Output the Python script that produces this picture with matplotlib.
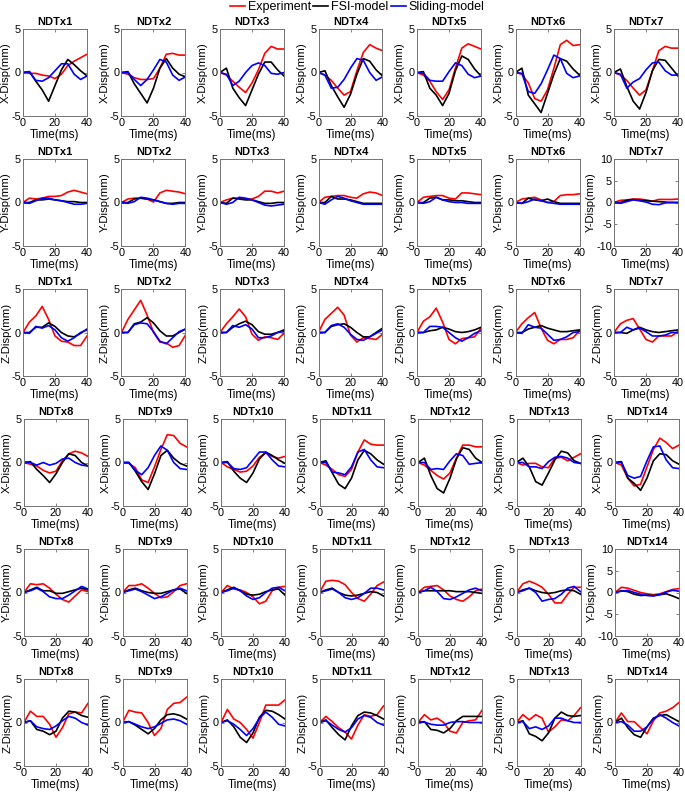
import matplotlib.pyplot as plt
from matplotlib.lines import Line2D

plt.rcParams['font.family'] = ['Liberation Sans', 'DejaVu Sans']
plt.rcParams['axes.unicode_minus'] = False

TIME = [0, 4, 8, 12, 16, 20, 24, 28, 32, 36, 40]
NAMES_A = ['NDTx1', 'NDTx2', 'NDTx3', 'NDTx4', 'NDTx5', 'NDTx6', 'NDTx7']
NAMES_B = ['NDTx8', 'NDTx9', 'NDTx10', 'NDTx11', 'NDTx12', 'NDTx13', 'NDTx14']

# ---- X displacement, NDTx1-7
x_exp_a = [[0, -0.1, -0.1, -0.3, -0.4, -0.7, -0.2, 0.8, 1.3, 1.7, 2.1],
           [0, -0.2, -0.6, -0.8, -0.8, -0.7, 0.5, 2.1, 2.2, 2.0, 2.0],
           [0, -0.3, -1.0, -1.7, -2.3, -1.2, 0.3, 2.2, 3.0, 2.7, 2.7],
           [0, -0.3, -0.9, -1.8, -2.6, -2.2, 0.2, 2.3, 3.2, 2.8, 2.5],
           [0, -0.3, -1.0, -2.2, -3.1, -2.0, 0.5, 2.8, 3.3, 3.0, 2.7],
           [0, -0.2, -1.2, -3.0, -3.3, -2.0, 0.5, 3.2, 3.7, 3.1, 3.2],
           [0, -0.3, -0.9, -1.8, -2.6, -2.0, 0.2, 2.5, 3.0, 2.8, 2.8]]
x_fsi_a = [[0, 0.1, -1.0, -2.0, -3.3, -1.5, 0.3, 1.5, 0.9, 0.2, -0.4],
           [0, 0.1, -1.3, -2.4, -3.5, -1.8, 0.5, 1.6, 0.5, -0.2, -0.5],
           [0, 0.5, -1.8, -2.9, -3.8, -2.0, -0.2, 1.2, 1.2, 0.3, -0.4],
           [0, 0.2, -1.5, -2.8, -4.0, -2.5, -0.2, 1.6, 1.3, 0.3, -0.4],
           [0, 0.1, -1.8, -2.6, -3.8, -2.4, 0.2, 1.9, 1.5, 0.4, -0.4],
           [0, 0.5, -2.6, -3.6, -4.6, -2.4, -0.2, 1.6, 1.3, 0.4, -0.3],
           [0, 0.4, -1.6, -3.3, -4.2, -2.3, 0.2, 1.5, 1.4, 0.5, -0.4]]
x_sld_a = [[0, 0.1, -0.9, -1.0, -0.6, 0.2, 1.0, 1.0, -0.2, -0.8, -0.4],
           [0, 0.0, -0.8, -1.5, -0.8, 0.3, 1.5, 1.2, -0.3, -0.9, -0.5],
           [0, -0.2, -1.5, -1.0, 0.0, 0.8, 1.1, 0.8, -0.1, -0.2, 0.0],
           [0, -0.3, -1.8, -1.7, -0.8, 0.5, 1.6, 1.4, 0.0, -0.9, -0.5],
           [0, -0.1, -0.9, -1.0, -1.0, 0.1, 1.1, 0.8, -0.2, -0.6, -0.4],
           [0, -0.1, -2.2, -2.4, -1.3, 0.3, 2.0, 1.6, -0.1, -0.6, -0.4],
           [0, -0.2, -1.8, -1.1, -0.7, 0.3, 1.1, 1.2, 0.2, -0.3, -0.3]]

# ---- Y displacement, NDTx1-7
y_exp_a = [[0, 0.5, 0.4, 0.5, 0.7, 0.7, 0.8, 1.2, 1.4, 1.2, 1.0],
           [0, 0.4, 0.5, 0.5, 0.4, 0.05, 1.1, 1.4, 1.3, 1.2, 1.0],
           [0, 0.3, 0.5, 0.5, 0.4, 0.4, 0.7, 1.3, 1.3, 1.1, 1.3],
           [0, 0.6, 0.7, 0.8, 0.8, 0.6, 0.5, 1.0, 1.2, 1.1, 0.8],
           [0, 0.6, 0.7, 0.8, 0.8, 0.5, 0.4, 1.1, 1.1, 1.0, 0.9],
           [0, 0.4, 0.5, 0.6, 0.3, 0.0, 0.1, 0.8, 0.9, 0.9, 1.0],
           [0, 0.5, 0.6, 0.8, 0.8, 0.6, 0.3, 0.7, 0.7, 0.7, 0.8]]
y_fsi_a = [[0, 0.0, 0.3, 0.3, 0.4, 0.3, 0.2, 0.1, 0.1, 0.0, 0.0],
           [0, 0.0, 0.4, 0.5, 0.4, 0.3, 0.1, -0.1, -0.1, 0.0, 0.0],
           [0, -0.1, 0.5, 0.4, 0.3, 0.3, 0.1, -0.1, -0.1, 0.0, 0.0],
           [0, 0.0, 0.7, 0.4, 0.4, 0.3, 0.1, -0.1, -0.1, -0.1, -0.1],
           [0, 0.0, 0.5, 0.6, 0.3, 0.3, 0.2, 0.2, 0.1, 0.0, 0.0],
           [0, -0.1, 0.5, 0.3, 0.2, 0.4, 0.1, -0.1, -0.1, -0.1, -0.1],
           [0, 0.0, 0.5, 0.7, 0.5, 0.4, 0.3, 0.2, 0.1, 0.0, 0.0]]
y_sld_a = [[0, -0.1, 0.2, 0.5, 0.5, 0.3, 0.2, 0.0, -0.2, -0.2, -0.1],
           [0, -0.1, 0.1, 0.6, 0.5, 0.3, 0.1, -0.1, -0.2, -0.1, -0.1],
           [0, -0.2, 0.0, 0.6, 0.5, 0.3, 0.0, -0.3, -0.4, -0.3, -0.2],
           [0, -0.2, 0.3, 0.7, 0.5, 0.2, 0.0, -0.2, -0.2, -0.2, -0.2],
           [0, -0.1, 0.1, 0.6, 0.3, 0.1, 0.0, 0.0, -0.1, -0.1, -0.1],
           [0, -0.1, 0.1, 0.4, 0.2, 0.0, -0.1, -0.2, -0.2, -0.2, -0.2],
           [0, -0.2, 0.2, 0.6, 0.4, 0.1, -0.4, -0.5, -0.1, 0.0, 0.0]]

# ---- Z displacement, NDTx1-7
z_exp_a = [[0, 1.2, 1.9, 3.0, 1.5, -0.4, -1.0, -1.1, -1.5, -1.5, -0.4],
           [0, 1.5, 2.6, 3.7, 2.0, 0.0, -1.1, -1.2, -1.7, -1.5, -0.3],
           [0, 1.0, 1.8, 2.7, 1.8, -0.2, -0.9, -0.5, -0.6, -0.8, -0.1],
           [0, 1.5, 2.2, 2.9, 2.0, -0.3, -1.1, -0.6, -0.7, -0.8, -0.2],
           [0, 1.3, 1.8, 2.8, 1.2, -0.8, -1.3, -0.7, -0.6, -0.5, 0.5],
           [0, 1.0, 1.7, 2.3, 0.5, -0.9, -1.3, -0.8, -0.8, -0.6, 0.2],
           [0, 1.0, 1.4, 1.6, 0.4, -0.8, -1.1, -0.4, -0.4, -0.4, 0.1]]
z_fsi_a = [[0, 0.0, 0.6, 0.6, 1.1, 0.7, 0.0, -0.4, -0.5, -0.1, 0.4],
           [0, 0.0, 1.0, 1.2, 1.7, 1.1, 0.2, -0.4, -0.4, 0.0, 0.4],
           [0, 0.0, 0.6, 1.0, 1.3, 0.9, 0.1, -0.2, -0.2, 0.0, 0.3],
           [0, 0.0, 0.7, 0.9, 1.0, 0.6, 0.0, -0.5, -0.5, 0.0, 0.5],
           [0, 0.0, 0.2, 0.3, 0.6, 0.4, 0.1, 0.0, 0.1, 0.3, 0.6],
           [0, 0.0, 0.4, 0.6, 0.8, 0.5, 0.3, 0.1, 0.1, 0.2, 0.3],
           [0, 0.0, -0.1, 0.3, 0.6, 0.3, 0.1, 0.0, 0.1, 0.2, 0.3]]
z_sld_a = [[0, -0.1, 0.7, 0.5, 0.8, 0.3, -0.6, -1.0, -0.6, 0.0, 0.3],
           [0, 0.0, 0.9, 1.1, 1.0, 0.1, -1.0, -1.3, -0.6, 0.1, 0.4],
           [0, 0.0, 0.8, 0.6, 0.9, 0.4, -0.6, -0.6, -0.4, 0.0, 0.1],
           [0, 0.0, 0.8, 1.0, 0.6, -0.2, -0.8, -0.9, -0.5, -0.1, 0.3],
           [0, 0.0, 0.7, 0.7, 0.6, 0.0, -0.6, -1.0, -0.6, -0.1, 0.2],
           [0, -0.1, 0.9, 0.6, 0.5, -0.2, -0.9, -0.8, -0.5, 0.0, 0.1],
           [0, 0.0, 0.6, 0.3, 0.5, 0.1, -0.4, -0.4, -0.3, 0.0, 0.0]]

# ---- X displacement, NDTx8-14
x_exp_b = [[0, -0.2, -0.4, -0.9, -1.2, -1.0, 0.2, 1.0, 1.3, 1.1, 0.7],
           [0, -0.1, -0.6, -2.0, -2.3, -0.5, 1.5, 3.2, 3.1, 2.2, 1.8],
           [0, -0.5, -0.8, -1.1, -1.0, -0.4, 0.6, 1.1, 0.7, 0.5, 0.7],
           [0, -0.3, -0.8, -1.4, -1.6, -0.8, 1.2, 2.6, 2.1, 2.0, 2.0],
           [0, -0.3, -0.9, -1.5, -1.9, -1.2, 0.5, 2.0, 2.0, 1.8, 1.8],
           [0, -0.3, -0.1, -0.1, -0.5, -0.6, 0.5, 0.6, 0.2, 0.6, 1.0],
           [0, -0.3, -1.8, -2.7, -2.5, -0.5, 1.5, 2.8, 2.3, 1.6, 2.0]]
x_fsi_b = [[0, 0.1, -0.8, -1.5, -2.3, -1.3, 0.0, 1.0, 0.8, 0.0, -0.4],
           [0, 0.0, -1.0, -2.2, -3.1, -1.3, 0.8, 1.4, 0.5, -0.1, -0.4],
           [0, 0.1, -1.0, -1.8, -2.3, -1.2, 0.4, 1.2, 0.8, 0.3, -0.1],
           [0, 0.2, -1.2, -2.5, -3.0, -1.8, 0.3, 1.4, 1.0, 0.3, -0.2],
           [0, 0.5, -1.5, -3.0, -3.5, -1.8, 0.4, 1.7, 1.5, 0.5, 0.0],
           [0, 0.5, -0.5, -2.2, -2.6, -1.2, 0.3, 1.3, 1.1, 0.2, -0.1],
           [0, 0.1, -1.8, -2.4, -3.2, -1.8, 0.2, 1.0, 0.9, 0.2, -0.2]]
x_sld_b = [[0, 0.0, -0.3, 0.0, -0.3, -0.1, 0.4, 0.5, 0.0, -0.3, -0.4],
           [0, 0.0, -0.9, -1.4, -0.6, 0.8, 1.9, 1.4, 0.0, -0.7, -0.8],
           [0, 0.0, -0.7, -0.8, -0.6, 0.3, 1.2, 1.2, 0.3, -0.4, -0.5],
           [0, 0.0, -1.1, -1.2, -1.4, -0.5, 1.2, 1.5, 0.3, -0.5, -0.6],
           [0, 0.0, -0.8, -0.7, -0.8, 0.2, 1.0, 0.8, -0.2, -0.1, 0.0],
           [0, 0.0, -0.5, -0.5, -0.7, 0.1, 0.6, 0.7, 0.5, 0.0, -0.1],
           [0, 0.0, -1.5, -1.8, -1.6, 0.2, 1.8, 1.9, 0.3, -0.6, -0.7]]

# ---- Y displacement, NDTx8-14
y_exp_b = [[0, 1.0, 0.9, 1.0, 0.5, -0.2, -0.8, -1.1, -0.4, 0.3, 0.1],
           [0, 0.8, 0.8, 1.0, 0.5, -0.1, -0.6, -0.5, 0.1, 0.8, 1.0],
           [0, 0.8, 0.4, 0.3, 0.0, -0.5, -1.3, -1.0, 0.2, 0.6, 0.7],
           [0, 1.3, 1.4, 1.3, 0.9, 0.0, -0.7, -1.0, -0.2, 0.8, 1.2],
           [0, 0.6, 0.7, 0.8, 0.3, -0.4, -0.8, -1.0, -0.5, 0.2, 0.4],
           [0, 1.0, 1.3, 1.0, 0.6, -0.2, -1.2, -1.2, -0.2, 0.6, 0.6],
           [0, 1.2, 1.0, 0.5, 0.0, -0.3, -0.5, -0.3, 0.2, 0.7, 0.9]]
y_fsi_b = [[0, 0.3, 0.6, 0.2, 0.2, -0.1, -0.1, 0.1, 0.3, 0.5, 0.3],
           [0, 0.3, 0.5, 0.2, 0.0, -0.1, -0.1, 0.1, 0.3, 0.4, -0.1],
           [0, 0.3, 0.6, 0.2, -0.2, -0.3, -0.2, 0.1, 0.3, 0.4, -0.3],
           [0, 0.3, 0.5, 0.0, -0.3, -0.4, -0.3, -0.1, 0.1, 0.0, -0.4],
           [0, 0.2, 0.2, 0.2, 0.2, 0.2, 0.1, 0.1, 0.1, 0.0, -0.1],
           [0, 0.3, 0.5, 0.2, 0.0, -0.1, 0.0, 0.2, 0.3, 0.2, -0.2],
           [0, 0.4, 0.2, -0.4, -0.7, -0.6, -0.7, -0.5, -0.3, -0.8, -1.4]]
y_sld_b = [[0, 0.2, 0.5, 0.1, -0.5, -0.7, -0.7, -0.3, 0.2, 0.7, 0.4],
           [0, 0.2, 0.4, 0.1, -0.3, -0.7, -0.5, -0.1, 0.3, 0.5, 0.2],
           [0, 0.2, 0.5, 0.2, -0.4, -0.8, -0.6, 0.0, 0.5, 0.6, 0.2],
           [0, 0.2, 0.4, 0.0, -0.6, -0.8, -0.6, -0.1, 0.5, 0.5, 0.3],
           [0, 0.2, 0.6, 0.1, -0.7, -0.8, -0.5, -0.1, 0.3, 0.5, 0.2],
           [0, 0.2, 0.5, 0.0, -1.0, -0.8, -0.7, -0.2, 0.5, 0.7, 0.1],
           [0, 0.3, 0.5, 0.0, -0.4, -0.7, -0.8, -0.5, 0.1, 0.5, 0.3]]

# ---- Z displacement, NDTx8-14
z_exp_b = [[0, 1.3, 0.7, 0.7, -0.2, -1.7, -0.6, 1.0, 1.2, 1.1, 2.2],
           [0, 1.4, 1.2, 1.1, 0.0, -1.5, -0.7, 1.5, 2.2, 2.3, 2.9],
           [0, 1.5, 0.4, 0.0, -0.8, -1.8, 0.0, 2.0, 2.0, 2.0, 2.6],
           [0, 0.7, 0.1, -0.6, -1.1, -1.9, -0.3, 0.9, 0.7, 0.9, 1.9],
           [0, 0.9, 0.3, 0.5, 0.0, -1.0, -1.2, 0.0, 0.2, 0.3, 1.4],
           [0, 0.9, 0.3, 0.9, 0.5, -1.1, -0.5, 0.3, 0.2, 0.8, 1.7],
           [0, 1.1, 0.1, 0.1, -0.6, -1.3, 0.2, 1.1, 1.3, 1.7, 2.3]]
z_fsi_b = [[0, 0.2, -0.8, -1.0, -1.4, -1.0, 0.5, 1.3, 1.2, 0.8, 0.6],
           [0, 0.1, -0.3, -0.8, -1.3, -0.7, 0.3, 0.9, 1.0, 0.8, 0.4],
           [0, 0.3, -0.5, -1.7, -2.3, -1.2, 0.6, 1.4, 1.3, 0.9, 0.4],
           [0, 0.3, -0.6, -1.4, -2.0, -0.4, 0.8, 1.2, 1.1, 0.8, 0.4],
           [0, 0.1, -0.8, -0.9, -1.2, -0.7, 0.2, 0.7, 0.7, 0.7, 0.7],
           [0, 0.2, -1.3, -1.6, -2.1, -1.2, 0.5, 1.2, 0.8, 0.7, 0.8],
           [0, 0.5, -0.6, -1.4, -1.7, -0.5, 0.5, 0.8, 0.9, 0.5, 0.1]]
z_sld_b = [[0, 0.2, -0.5, -0.7, -0.8, -0.4, 0.2, 0.7, 0.5, 0.0, -0.3],
           [0, 0.1, -0.2, -0.5, -0.7, -0.5, -0.1, 0.3, 0.4, 0.2, -0.2],
           [0, 0.2, -0.2, -0.8, -1.5, -0.7, 0.5, 1.2, 0.6, -0.2, -0.4],
           [0, 0.2, -0.3, -0.8, -1.1, -0.6, 0.4, 0.8, 0.6, 0.0, -0.3],
           [0, 0.05, -0.2, -0.3, -0.3, 0.0, 0.1, 0.1, 0.0, 0.0, 0.0],
           [0, 0.1, -0.7, -0.5, -0.8, -0.4, 0.5, 0.5, 0.2, 0.0, 0.0],
           [0, 0.1, -0.3, -1.0, -1.0, -0.5, 0.4, 0.9, 0.5, 0.0, -0.4]]

rows = [
    (x_exp_a, x_fsi_a, x_sld_a, 'X-Disp(mm)', NAMES_A),
    (y_exp_a, y_fsi_a, y_sld_a, 'Y-Disp(mm)', NAMES_A),
    (z_exp_a, z_fsi_a, z_sld_a, 'Z-Disp(mm)', NAMES_A),
    (x_exp_b, x_fsi_b, x_sld_b, 'X-Disp(mm)', NAMES_B),
    (y_exp_b, y_fsi_b, y_sld_b, 'Y-Disp(mm)', NAMES_B),
    (z_exp_b, z_fsi_b, z_sld_b, 'Z-Disp(mm)', NAMES_B),
]

W, H = 685, 793
fig = plt.figure(figsize=(W / 100, H / 100), dpi=100)

row_tops = [29, 159, 289, 419, 549, 679]
col_lefts = [22, 120.5, 219, 317.5, 416, 514.5, 613]
ax_w, ax_h = 64, 87

for r, (exp, fsi, sld, ylab, names) in enumerate(rows):
    shift = 1 if r < 3 else 2
    for c in range(7):
        left = col_lefts[c] + shift
        ax = fig.add_axes([left / W, 1 - (row_tops[r] + ax_h) / H, ax_w / W, ax_h / H])
        ax.plot(TIME, exp[c], color='red', lw=1.2)
        ax.plot(TIME, fsi[c], color='black', lw=1.2)
        ax.plot(TIME, sld[c], color='blue', lw=1.2)
        ax.set_xlim(0, 40)
        ax.set_xticks([0, 20, 40])
        # Y panels for the last specimen use a wider range
        if ylab == 'Y-Disp(mm)' and c == 6:
            ax.set_ylim(-10, 10)
            ax.set_yticks([-10, -5, 0, 5, 10])
        else:
            ax.set_ylim(-5, 5)
            ax.set_yticks([-5, 0, 5])
        ax.set_title(names[c], fontsize=8, fontweight='bold', pad=3)
        ax.set_xlabel('Time(ms)', fontsize=8.5, labelpad=1)
        ax.set_ylabel(ylab, fontsize=8.2, labelpad=0)
        ax.tick_params(direction='in', length=2, width=0.5, labelsize=7.8, pad=1.5,
                       top=True, right=True, color='0.3')
        for sp in ax.spines.values():
            sp.set_color('0.45')
            sp.set_linewidth(0.7)

handles = [Line2D([], [], color='red', lw=1.2),
           Line2D([], [], color='black', lw=1.2),
           Line2D([], [], color='blue', lw=1.2)]
fig.legend(handles, ['Experiment', 'FSI-model', 'Sliding-model'], loc='upper center',
           bbox_to_anchor=(357 / W, 1.0), borderaxespad=0.0, borderpad=0.1,
           ncol=3, frameon=False, fontsize=9,
           handlelength=1.2, handletextpad=0.2, columnspacing=0.2)

fig.savefig('out.png', dpi=100)
